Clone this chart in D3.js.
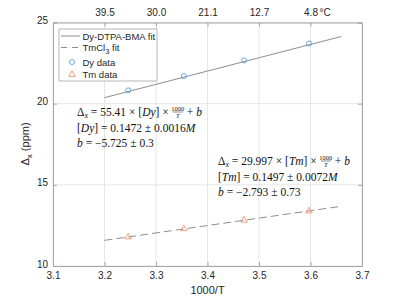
<!DOCTYPE html>
<html>
<head>
<meta charset="utf-8">
<script src="https://cdn.jsdelivr.net/npm/d3@7"></script>
<style>
  body{margin:0;background:#fff;}
  svg{display:block;}
  .axis text{font-family:"Liberation Sans",Arial,sans-serif;font-size:10px;fill:#262626;}
  .eq{font-family:"Liberation Serif","DejaVu Serif",serif;font-size:11.5px;fill:#111;}
</style>
</head>
<body>
<div id="chart"></div>
<script>
// data
const dyX=[3.246,3.354,3.471,3.597];
const dyY=[20.82,21.70,22.66,23.71];
const tmX=[3.246,3.354,3.471,3.597];
const tmY=[11.82,12.32,12.85,13.42];
const dyFit=[[3.2,20.37],[3.66,24.14]];
const tmFit=[[3.2,11.58],[3.66,13.68]];
const xTicks=[3.1,3.2,3.3,3.4,3.5,3.6,3.7];
const yTicks=[10,15,20,25];
const topTicks=[3.2,3.3,3.4,3.5,3.6];
const topLabels=['39.5','30.0','21.1','12.7','4.8'];

const W=400,H=300,m={t:22.5,r:38,b:34,l:53};
const w=W-m.l-m.r,h=H-m.t-m.b;
const svg=d3.select('#chart').append('svg').attr('width',W).attr('height',H);
const g=svg.append('g').attr('transform',`translate(${m.l},${m.t})`);
const x=d3.scaleLinear().domain([3.1,3.7]).range([0,w]);
const y=d3.scaleLinear().domain([10,25]).range([h,0]);

// grid
g.selectAll('.gx').data(xTicks).join('line').attr('x1',d=>x(d)).attr('x2',d=>x(d)).attr('y1',0).attr('y2',h).attr('stroke','#e6e6e6');
g.selectAll('.gy').data(yTicks).join('line').attr('y1',d=>y(d)).attr('y2',d=>y(d)).attr('x1',0).attr('x2',w).attr('stroke','#e6e6e6');

// axes
const ax=g.append('g').attr('class','axis').attr('transform',`translate(0,${h})`).call(d3.axisBottom(x).tickValues(xTicks).tickSize(-4).tickPadding(6).tickFormat(d3.format('.1f')));
const ay=g.append('g').attr('class','axis').call(d3.axisLeft(y).tickValues(yTicks).tickSize(-4).tickPadding(5));
const at=g.append('g').attr('class','axis').call(d3.axisTop(x).tickValues(topTicks).tickSize(-4).tickPadding(7).tickFormat((d,i)=>topLabels[i]));
const ar=g.append('g').attr('class','axis').attr('transform',`translate(${w},0)`).call(d3.axisRight(y).tickValues(yTicks).tickSize(-4).tickFormat(''));
[ax,ay,at,ar].forEach(a=>{a.selectAll('line,path').attr('stroke','#a6a6a6');});
ay.selectAll('text').attr('dy','0.1em');
g.append('text').attr('x',x(3.6)+9).attr('y',-7).attr('font-family','Liberation Sans,Arial,sans-serif').attr('font-size',10).attr('fill','#262626').text('°C');

// fit lines
const line=d3.line().x(d=>x(d[0])).y(d=>y(d[1]));
g.append('path').datum(dyFit).attr('d',line).attr('fill','none').attr('stroke','#808080').attr('stroke-width',0.9);
g.append('path').datum(tmFit).attr('d',line).attr('fill','none').attr('stroke','#808080').attr('stroke-width',0.9).attr('stroke-dasharray','8,4');

// markers
g.selectAll('.dy').data(dyX).join('circle').attr('cx',d=>x(d)).attr('cy',(d,i)=>y(dyY[i])).attr('r',2.5).attr('fill','none').attr('stroke','#5a9fd8').attr('stroke-width',0.9);
const tri=d3.symbol().type(d3.symbolTriangle).size(18);
g.selectAll('.tm').data(tmX).join('path').attr('d',tri).attr('transform',(d,i)=>`translate(${x(d)},${y(tmY[i])+0.5})`).attr('fill','none').attr('stroke','#ee9470').attr('stroke-width',0.9);

// labels
svg.append('text').attr('x',m.l+w/2).attr('y',294).attr('text-anchor','middle').attr('font-family','Liberation Sans,Arial,sans-serif').attr('font-size',11).attr('fill','#262626').text('1000/T');
const yl=svg.append('text').attr('transform','translate(29,144) rotate(-90)').attr('text-anchor','middle').attr('font-family','Liberation Sans,Arial,sans-serif').attr('font-size',11).attr('fill','#262626');
yl.append('tspan').text('Δ');
yl.append('tspan').attr('font-size',8).attr('dy',3).text('x');
yl.append('tspan').attr('dy',-3).text(' (ppm)');

// legend
const leg=svg.append('g').attr('transform','translate(59,29)');
leg.append('rect').attr('width',98).attr('height',52).attr('fill','#fff').attr('stroke','#a6a6a6').attr('stroke-width',0.8);
const lt=(yy)=>leg.append('text').attr('x',23.5).attr('y',yy).attr('font-family','Liberation Sans,Arial,sans-serif').attr('font-size',9.5).attr('fill','#262626');
leg.append('line').attr('x1',2).attr('x2',21).attr('y1',7).attr('y2',7).attr('stroke','#808080').attr('stroke-width',0.9);
lt(10.5).text('Dy-DTPA-BMA fit');
leg.append('line').attr('x1',2).attr('x2',21).attr('y1',18.5).attr('y2',18.5).attr('stroke','#808080').attr('stroke-width',0.9).attr('stroke-dasharray','6,5');
const t2=lt(21.5);t2.append('tspan').text('TmCl');t2.append('tspan').attr('font-size',7.5).attr('dy',3).text('3');t2.append('tspan').attr('dy',-3).text(' fit');
leg.append('circle').attr('cx',13).attr('cy',33).attr('r',2.5).attr('fill','none').attr('stroke','#5a9fd8').attr('stroke-width',0.9);
lt(36.5).text('Dy data');
leg.append('path').attr('d',tri).attr('transform','translate(13,45.5)').attr('fill','none').attr('stroke','#ee9470').attr('stroke-width',0.9);
lt(48.5).text('Tm data');

// equations
function eq(x0,y0,coef,el,conc,err,b,berr){
  const t1=svg.append('text').attr('class','eq').attr('x',x0).attr('y',y0);
  t1.append('tspan').text('Δ');
  t1.append('tspan').attr('font-style','italic').attr('font-size',8).attr('dy',2).text('x');
  t1.append('tspan').attr('dy',-2).text(` = ${coef} × [`);
  t1.append('tspan').attr('font-style','italic').text(el);
  t1.append('tspan').text('] ×');
  const fx=x0+t1.node().getComputedTextLength()+3;
  const fr=svg.append('g').attr('transform',`translate(${fx},${y0})`);
  fr.append('text').attr('x',6).attr('y',-5.5).attr('text-anchor','middle').attr('style','font-family:Liberation Serif,serif;font-size:6.5px;fill:#111').text('1000');
  fr.append('line').attr('x1',1).attr('x2',11).attr('y1',-4).attr('y2',-4).attr('stroke','#111').attr('stroke-width',0.5);
  fr.append('text').attr('x',6).attr('y',1.5).attr('text-anchor','middle').attr('style','font-family:Liberation Serif,serif;font-size:6.5px;font-style:italic;fill:#111').text('T');
  const tb=svg.append('text').attr('class','eq').attr('x',fx+15).attr('y',y0);
  tb.append('tspan').text('+ ');
  tb.append('tspan').attr('font-style','italic').text('b');
  const t2=svg.append('text').attr('class','eq').attr('x',x0).attr('y',y0+15.5);
  t2.append('tspan').text('[');t2.append('tspan').attr('font-style','italic').text(el);
  t2.append('tspan').text(`] = ${conc} ± ${err}`);t2.append('tspan').attr('font-style','italic').text('M');
  const t3=svg.append('text').attr('class','eq').attr('x',x0).attr('y',y0+31);
  t3.append('tspan').attr('font-style','italic').text('b');
  t3.append('tspan').text(` = −${b} ± ${berr}`);
}
eq(77,116,'55.41','Dy','0.1472','0.0016','5.725','0.3');
eq(218,165,'29.997','Tm','0.1497','0.0072','2.793','0.73');
</script>
</body>
</html>
